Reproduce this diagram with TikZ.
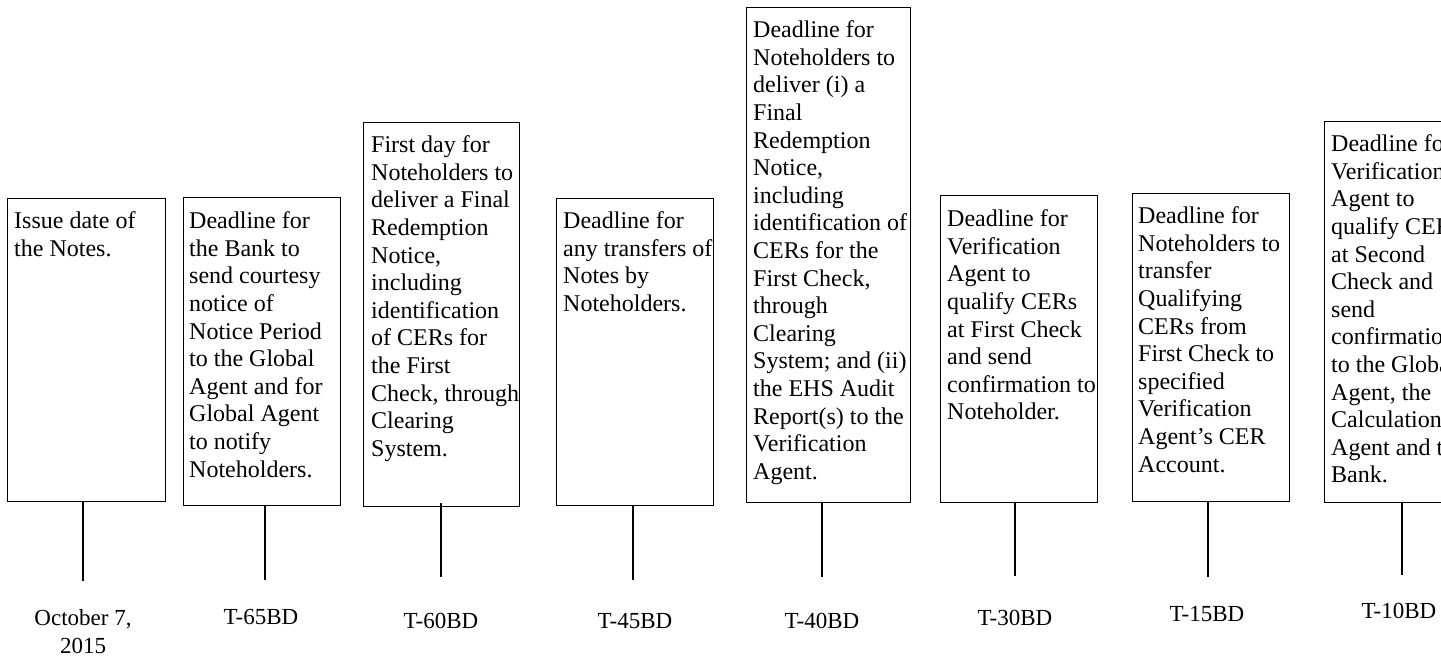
\documentclass[tikz,border=0pt]{standalone}
\usepackage{fontspec}
\setmainfont{Liberation Serif}
\begin{document}
\begin{tikzpicture}[x=1pt,y=1pt,
  box/.style={draw, line width=1.2pt, inner sep=0pt, anchor=north west},
  boxtext/.style={anchor=north west, inner sep=0pt, align=left, font=\fontsize{24}{27.6}\selectfont},
  tick/.style={line width=1.2pt},
  datelabel/.style={anchor=north, inner sep=0pt, align=center, font=\fontsize{23}{28}\selectfont}]
\useasboundingbox (0,0) rectangle (1441,-662);
\clip (0,0) rectangle (1441,-662);
\newcommand\st{\rule{0pt}{20pt}}
% boxes
\node[box, minimum width=158pt, minimum height=303pt] (b1) at (7,-198) {};
\node[box, minimum width=157pt, minimum height=308pt] (b2) at (183,-197) {};
\node[box, minimum width=156pt, minimum height=384pt] (b3) at (363,-122) {};
\node[box, minimum width=157pt, minimum height=307pt] (b4) at (556,-198) {};
\node[box, minimum width=164pt, minimum height=495pt] (b5) at (746,-7) {};
\node[box, minimum width=157pt, minimum height=307pt] (b6) at (940,-195) {};
\node[box, minimum width=157pt, minimum height=308pt] (b7) at (1132,-193) {};
\node[box, minimum width=157pt, minimum height=381pt] (b8) at (1324,-121) {};
% texts
\node[boxtext] (t1) at (14,-208.5) {\st Issue date of\\the Notes.};
\node[boxtext] (t2) at (189,-208.5) {\st Deadline for\\the Bank to\\send courtesy\\notice of\\Notice Period\\to the Global\\Agent and for\\Global Agent\\to notify\\Noteholders.};
\node[boxtext] (t3) at (371,-132.5) {\st First day for\\Noteholders to\\deliver a Final\\Redemption\\Notice,\\including\\identification\\of CERs for\\the First\\Check, through\\Clearing\\System.};
\node[boxtext] (t4) at (563,-208.5) {\st Deadline for\\any transfers of\\Notes by\\Noteholders.};
\node[boxtext] (t5) at (753,-17.5) {\st Deadline for\\Noteholders to\\deliver (i) a\\Final\\Redemption\\Notice,\\including\\identification of\\CERs for the\\First Check,\\through\\Clearing\\System; and (ii)\\the EHS Audit\\Report(s) to the\\Verification\\Agent.};
\node[boxtext] (t6) at (947,-206.5) {\st Deadline for\\Verification\\Agent to\\qualify CERs\\at First Check\\and send\\confirmation to\\Noteholder.};
\node[boxtext] (t7) at (1138,-203.5) {\st Deadline for\\Noteholders to\\transfer\\Qualifying\\CERs from\\First Check to\\specified\\Verification\\Agent’s CER\\Account.};
\node[boxtext] (t8) at (1331,-131.5) {\st Deadline for\\Verification\\Agent to\\qualify CERs\\at Second\\Check and\\send\\confirmation\\to the Global\\Agent, the\\Calculation\\Agent and the\\Bank.};
% tick ends
\coordinate (e1) at (83,-581);
\coordinate (e2) at (265,-580);
\coordinate (e3) at (441,-577);
\coordinate (e4) at (633,-580);
\coordinate (e5) at (822,-577);
\coordinate (e6) at (1015,-576);
\coordinate (e7) at (1208,-577);
\coordinate (e8) at (1402,-575);
\draw[tick] (b1.south -| e1) -- (e1);
\draw[tick] (b2.south -| e2) -- (e2);
\draw[tick] (b3.south -| e3) ++(0,4) -- (e3);
\draw[tick] (b4.south -| e4) -- (e4);
\draw[tick] (b5.south -| e5) -- (e5);
\draw[tick] (b6.south -| e6) -- (e6);
\draw[tick] (b7.south -| e7) -- (e7);
\draw[tick] (b8.south -| e8) -- (e8);
% date labels
\node[datelabel] (l1) at (83,-605) {\st October 7,\\2015};
\node[datelabel] (l2) at (261,-604) {\st T-65BD};
\node[datelabel] (l3) at (441,-608) {\st T-60BD};
\node[datelabel] (l4) at (635,-608) {\st T-45BD};
\node[datelabel] (l5) at (822,-608) {\st T-40BD};
\node[datelabel] (l6) at (1015,-605) {\st T-30BD};
\node[datelabel] (l7) at (1207,-601) {\st T-15BD};
\node[datelabel] (l8) at (1399,-598) {\st T-10BD};
\end{tikzpicture}
\end{document}
